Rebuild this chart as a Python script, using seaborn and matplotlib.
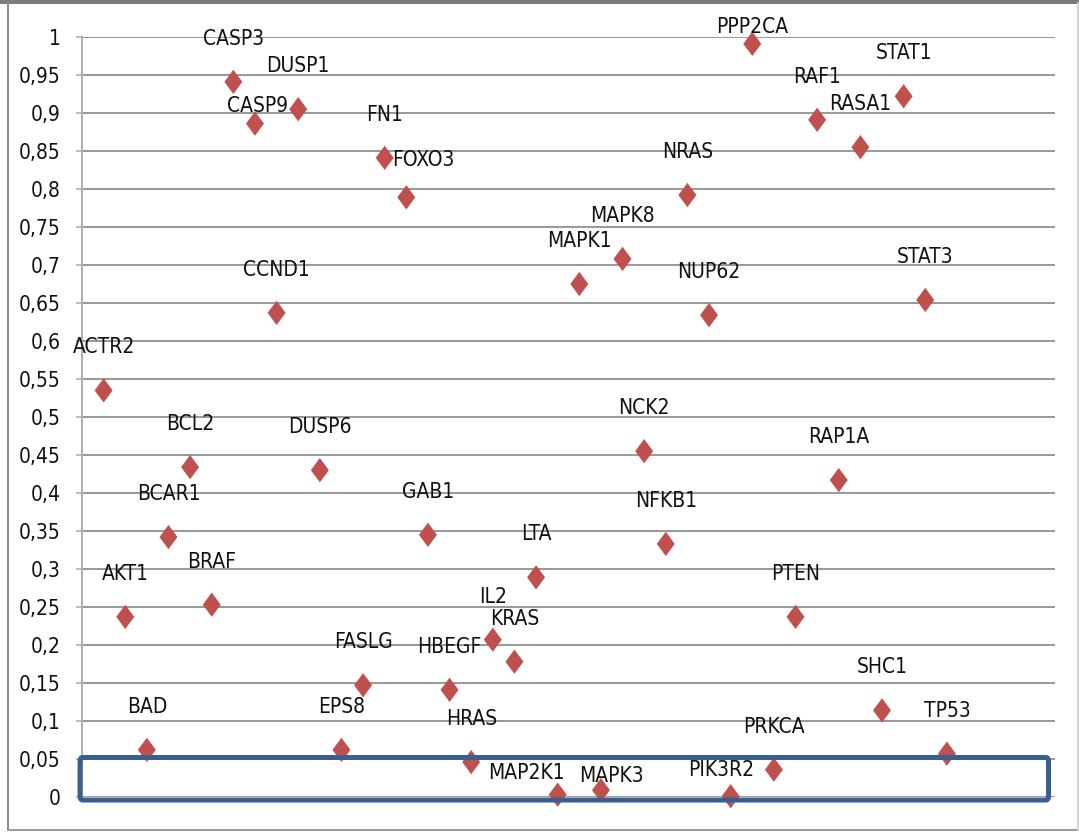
import matplotlib
matplotlib.use("Agg")
import matplotlib.pyplot as plt
import seaborn as sns
import pandas as pd
from matplotlib import font_manager
from matplotlib.lines import Line2D
from matplotlib.path import Path
from matplotlib.patches import Rectangle, FancyBboxPatch
from matplotlib.ticker import FuncFormatter, MultipleLocator

genes = ["ACTR2", "AKT1", "BAD", "BCAR1", "BCL2", "BRAF", "CASP3", "CASP9",
         "CCND1", "DUSP1", "DUSP6", "EPS8", "FASLG", "FN1", "FOXO3", "GAB1",
         "HBEGF", "HRAS", "IL2", "KRAS", "LTA", "MAP2K1", "MAPK1", "MAPK3",
         "MAPK8", "NCK2", "NFKB1", "NRAS", "NUP62", "PIK3R2", "PPP2CA", "PRKCA",
         "PTEN", "RAF1", "RAP1A", "RASA1", "SHC1", "STAT1", "STAT3", "TP53"]
values = [0.535, 0.237, 0.062, 0.342, 0.434, 0.253, 0.941, 0.886,
          0.637, 0.905, 0.430, 0.062, 0.147, 0.841, 0.789, 0.345,
          0.141, 0.046, 0.207, 0.178, 0.289, 0.003, 0.675, 0.009,
          0.708, 0.455, 0.333, 0.792, 0.634, 0.001, 0.991, 0.036,
          0.237, 0.891, 0.417, 0.855, 0.114, 0.922, 0.654, 0.057]

# labels sit above their marker; a few were nudged to avoid overlaps (pixels)
label_nudge = {"CASP9": (3, 18), "FOXO3": (17, 37), "MAP2K1": (-31, 22),
               "MAPK3": (11, 14), "PIK3R2": (-9, 26), "PPP2CA": (0, 17)}
default_nudge = (0, 43)

df = pd.DataFrame({"pos": range(1, len(genes) + 1), "value": values, "gene": genes})

sns.set_theme(style="white")

# pick a narrow sans face when one is installed
fonts = font_manager.fontManager.ttflist
names = {f.name for f in fonts}
stretch = "normal"
if "Liberation Sans Narrow" in names:
    family = ["Liberation Sans Narrow", "DejaVu Sans"]
elif any(f.name == "DejaVu Sans" and f.stretch in ("condensed", "semi-condensed") for f in fonts):
    family = ["DejaVu Sans"]
    stretch = "condensed"
else:
    family = ["DejaVu Sans"]
plt.rcParams["font.family"] = family
plt.rcParams["font.stretch"] = stretch

W, H = 1079, 832
fig = plt.figure(figsize=(W / 100, H / 100), dpi=100)
ax = fig.add_axes([82 / W, 1 - 797 / H, (1055 - 82) / W, (797 - 37) / H])
px = 72 / 100  # one pixel in points

diamond = Path([(0, 1), (0.74, 0), (0, -1), (-0.74, 0), (0, 1)],
               [Path.MOVETO, Path.LINETO, Path.LINETO, Path.LINETO, Path.CLOSEPOLY])

sns.scatterplot(data=df, x="pos", y="value", marker=diamond, s=17.5 ** 2,
                color="#C0504D", edgecolor="none", linewidth=0, ax=ax, zorder=3,
                clip_on=False)

for g, x, y in zip(genes, df["pos"], values):
    dx, dy = label_nudge.get(g, default_nudge)
    ax.annotate(g, (x, y), xytext=(dx, dy), textcoords="offset pixels",
                ha="center", va="center", fontsize=15, color="#111111", zorder=4)

ax.set_xlim(0, 45)
ax.set_ylim(0, 1)
ax.yaxis.set_major_locator(MultipleLocator(0.05))
ax.yaxis.set_major_formatter(FuncFormatter(
    lambda v, _: ("%.2f" % v).rstrip("0").rstrip(".").replace(".", ",")))
ax.set_xticks([])
ax.set_xlabel("")
ax.set_ylabel("")
ax.grid(axis="y", color="#9A9A9A", linewidth=2 * px)
ax.set_axisbelow(True)
ax.tick_params(axis="y", which="major", left=True, length=6 * px, width=1.5 * px,
               color="#A8A8A8", pad=15 * px, labelsize=15, labelcolor="#111111")
for side in ["top", "right", "bottom"]:
    ax.spines[side].set_visible(False)
ax.spines["left"].set_color("#B0B0B0")
ax.spines["left"].set_linewidth(2 * px)

# highlight box around the lowest scores
ax.add_patch(FancyBboxPatch((-0.09, -0.004), 44.79, 0.056,
                            boxstyle="round,pad=0,rounding_size=0.12",
                            mutation_aspect=0.0018 / 0.12 * 3,
                            fill=False, edgecolor="#3A5E8E", linewidth=5 * px,
                            clip_on=False, zorder=5))

# outer frame of the figure
fig.add_artist(Rectangle((0, 1 - 3.5 / H), 1, 3.5 / H, transform=fig.transFigure,
                         facecolor="#7C7C7C", edgecolor="none"))
fig.add_artist(Line2D([8 / W, 8 / W], [2 / H, 1 - 3 / H], transform=fig.transFigure,
                      color="#8C8C8C", linewidth=2 * px))
fig.add_artist(Line2D([8 / W, 1], [2 / H, 2 / H], transform=fig.transFigure,
                      color="#9A9A9A", linewidth=2 * px))
fig.add_artist(Line2D([1077.5 / W, 1077.5 / W], [2 / H, 1 - 3 / H],
                      transform=fig.transFigure, color="#D4D4D4", linewidth=2 * px))

fig.savefig("out.png", dpi=100)
